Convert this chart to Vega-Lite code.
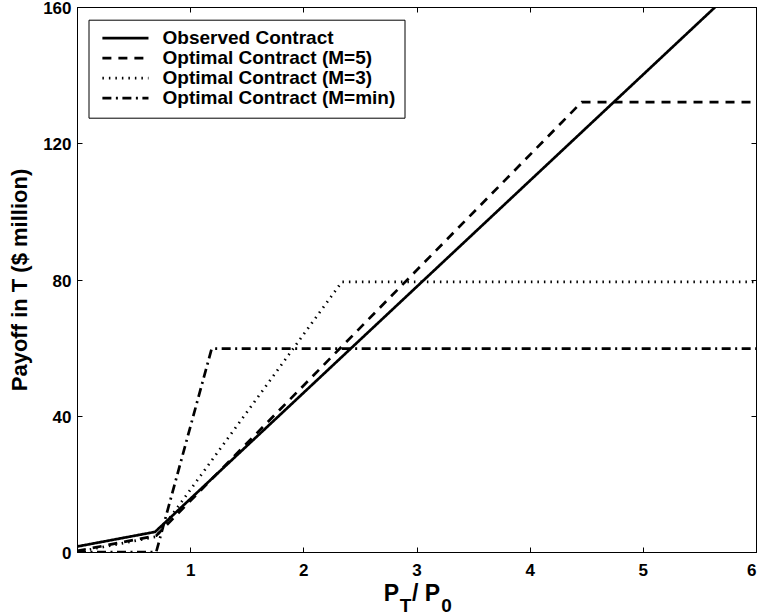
{
  "$schema": "https://vega.github.io/schema/vega-lite/v6.json",
  "autosize": "none",
  "width": 679,
  "height": 545,
  "padding": {"left": 77, "top": 7, "right": 4, "bottom": 63},
  "background": "white",
  "config": {
    "view": {"stroke": "black", "strokeWidth": 1},
    "font": "Liberation Sans",
    "axis": {
      "labelFont": "Liberation Sans", "labelFontWeight": "bold", "labelFontSize": 17, "labelColor": "black",
      "titleFont": "Liberation Sans", "titleFontWeight": "bold", "titleFontSize": 22, "titleColor": "black",
      "domainColor": "black", "tickColor": "black", "grid": false, "tickSize": -5, "labelPadding": 12
    }
  },
  "data": {"values": [
    {"series": "Observed Contract", "x": 0, "y": 1.6},
    {"series": "Observed Contract", "x": 0.69, "y": 5.9},
    {"series": "Observed Contract", "x": 5.64, "y": 160},
    {"series": "Optimal Contract (M=5)", "x": 0, "y": 0.3},
    {"series": "Optimal Contract (M=5)", "x": 0.7, "y": 4.8},
    {"series": "Optimal Contract (M=5)", "x": 4.46, "y": 132.1},
    {"series": "Optimal Contract (M=5)", "x": 6, "y": 132.1},
    {"series": "Optimal Contract (M=3)", "x": 0, "y": 0},
    {"series": "Optimal Contract (M=3)", "x": 0.7, "y": 4.5},
    {"series": "Optimal Contract (M=3)", "x": 2.34, "y": 79.3},
    {"series": "Optimal Contract (M=3)", "x": 6, "y": 79.3},
    {"series": "Optimal Contract (M=min)", "x": 0, "y": 0},
    {"series": "Optimal Contract (M=min)", "x": 0.7, "y": 0},
    {"series": "Optimal Contract (M=min)", "x": 1.19, "y": 59.7},
    {"series": "Optimal Contract (M=min)", "x": 6, "y": 59.7}
  ]},
  "resolve": {"axis": {"x": "independent", "y": "independent"}},
  "layer": [
    {
      "mark": {"type": "line", "color": "black", "clip": true},
      "encoding": {
        "x": {"field": "x", "type": "quantitative",
          "scale": {"domain": [0, 6], "nice": false, "zero": false},
          "axis": {"values": [1, 2, 3, 4, 5, 6], "labelPadding": 15,
                   "title": "P", "titleFontSize": 23, "titleX": 314, "titleY": 48, "titleBaseline": "alphabetic", "titleAlign": "center"}},
        "y": {"field": "y", "type": "quantitative",
          "scale": {"domain": [0, 160], "nice": false},
          "axis": {"values": [0, 40, 80, 120, 160], "title": "Payoff in T ($ million)", "titlePadding": 11, "labelPadding": 11, "labelOffset": 1.5}},
        "detail": {"field": "series"},
        "strokeDash": {"field": "series", "type": "nominal",
          "scale": {"domain": ["Observed Contract", "Optimal Contract (M=5)", "Optimal Contract (M=3)", "Optimal Contract (M=min)"],
                    "range": [[1, 0], [9, 7], [1.5, 5], [9, 4.5, 2, 4.5]]},
          "legend": {
            "title": null, "orient": "none", "legendX": 11.5, "legendY": 12.7,
            "strokeColor": "black", "fillColor": "white", "padding": 9,
            "labelFont": "Liberation Sans", "labelFontWeight": "bold", "labelFontSize": 19, "labelColor": "black", "labelLimit": 0,
            "symbolType": "M-1,0H9", "symbolSize": 85, "symbolStrokeColor": "black", "rowPadding": 0, "labelOffset": 46
          }},
        "strokeWidth": {"field": "series", "type": "nominal",
          "scale": {"domain": ["Observed Contract", "Optimal Contract (M=5)", "Optimal Contract (M=3)", "Optimal Contract (M=min)"],
                    "range": [2.7, 2.7, 1.2, 2.7]},
          "legend": {
            "title": null, "orient": "none", "legendX": 11.5, "legendY": 12.7,
            "strokeColor": "black", "fillColor": "white", "padding": 9,
            "labelFont": "Liberation Sans", "labelFontWeight": "bold", "labelFontSize": 19, "labelColor": "black", "labelLimit": 0,
            "symbolType": "M-1,0H9", "symbolSize": 85, "symbolStrokeColor": "black", "rowPadding": 0, "labelOffset": 46
          }}
      }
    },
    {
      "mark": {"type": "rule", "opacity": 0},
      "encoding": {
        "x": {"datum": 0, "type": "quantitative",
          "axis": {"orient": "top", "values": [1, 2, 3, 4, 5, 6], "labels": false, "title": null}},
        "y": {"datum": 0, "type": "quantitative",
          "axis": {"orient": "right", "values": [0, 40, 80, 120, 160], "labels": false, "title": null}}
      }
    },
    {
      "mark": {"type": "rule", "opacity": 0},
      "encoding": {
        "x": {"datum": 0, "type": "quantitative",
          "axis": {"orient": "bottom", "labels": false, "ticks": false, "domain": false,
                   "title": "/ P", "titleFontSize": 23, "titleX": 348.5, "titleY": 48, "titleBaseline": "alphabetic", "titleAlign": "center"}}
      }
    },
    {
      "mark": {"type": "rule", "opacity": 0},
      "encoding": {
        "x": {"datum": 0, "type": "quantitative",
          "axis": {"orient": "bottom", "labels": false, "ticks": false, "domain": false,
                   "title": "T", "titleFontSize": 19, "titleX": 328, "titleY": 59.5, "titleBaseline": "alphabetic", "titleAlign": "center"}}
      }
    },
    {
      "mark": {"type": "rule", "opacity": 0},
      "encoding": {
        "x": {"datum": 0, "type": "quantitative",
          "axis": {"orient": "bottom", "labels": false, "ticks": false, "domain": false,
                   "title": "0", "titleFontSize": 19, "titleX": 369, "titleY": 59.5, "titleBaseline": "alphabetic", "titleAlign": "center"}}
      }
    }
  ]
}
